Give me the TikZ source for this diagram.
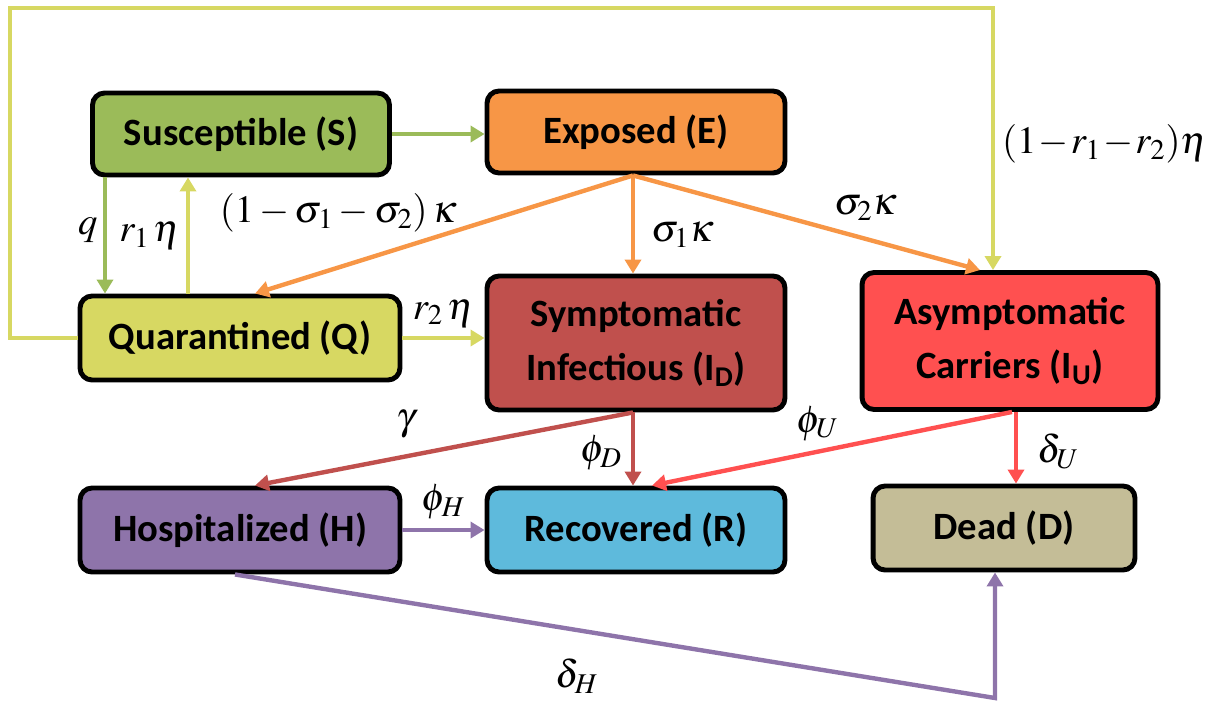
\documentclass[tikz,border=0pt]{standalone}
\usepackage{mathptmx}
\usepackage[no-math]{fontspec}
\newfontfamily\boxfont{Carlito}
\usetikzlibrary{positioning, arrows.meta}
\definecolor{colS}{RGB}{155, 187, 89}
\definecolor{colE}{RGB}{247, 150, 70}
\definecolor{colQ}{RGB}{215, 216, 98}
\definecolor{colID}{RGB}{192, 80, 77}
\definecolor{colIU}{RGB}{255, 80, 80}
\definecolor{colH}{RGB}{142, 116, 170}
\definecolor{colR}{RGB}{94, 186, 220}
\definecolor{colD}{RGB}{196, 189, 151}
\tikzset{
  compartment/.style={draw=black, line width=2.8pt, rounded corners=0.24cm,
    align=center, font=\boxfont\bfseries\fontsize{22}{31}\selectfont,
    inner sep=0pt},
  flow/.style={line width=2.5pt, -{Triangle[length=0.28cm, width=0.32cm]}},
  rate/.style={text=black, font=\fontsize{22}{26}\selectfont, inner sep=3pt}
}

\begin{document}
\begin{tikzpicture}[x=0.02cm, y=-0.02cm]
    \useasboundingbox (0,0) rectangle (1209,704);

    %% ── compartments ─────────────────────────────────────────────
    \node[compartment, fill=colS, minimum width=5.94cm, minimum height=1.64cm]
      (S) at (241,134) {Susceptible (S)};
    \node[compartment, fill=colE, minimum width=5.96cm, minimum height=1.64cm]
      (E) at (636,132) {Exposed (E)};
    \node[compartment, fill=colQ, minimum width=6.4cm, minimum height=1.68cm]
      (Q) at (240,338) {Quarantined (Q)};
    \node[compartment, fill=colID, minimum width=5.96cm, minimum height=2.68cm]
      (ID) at (636,343) {Symptomatic\\Infectious (I\textsubscript{D})};
    \node[compartment, fill=colIU, minimum width=5.92cm, minimum height=2.74cm]
      (IU) at (1010,341) {Asymptomatic\\Carriers (I\textsubscript{U})};
    \node[compartment, fill=colH, minimum width=6.4cm, minimum height=1.68cm]
      (H) at (240,530) {Hospitalized (H)};
    \node[compartment, fill=colR, minimum width=5.96cm, minimum height=1.68cm]
      (R) at (636,530) {Recovered (R)};
    \node[compartment, fill=colD, minimum width=5.24cm, minimum height=1.68cm]
      (D) at (1004,528) {Dead (D)};

    %% ── flows out of S and Q ─────────────────────────────────────
    \draw[flow, colS] (S.east) -- (S.east -| E.west);
    \draw[flow, colS] (S.south -| 105,0) --
      node[rate, left, pos=0.45] {$q$} (Q.north -| 105,0);
    \draw[flow, colQ] (Q.north -| 188,0) --
      node[rate, left, pos=0.5] {$r_1\,\eta$} (S.south -| 188,0);
    \draw[flow, colQ] (Q.east) --
      node[rate, above=2pt] {$r_2\,\eta$} (Q.east -| ID.west);
    % long way round the top to I_U
    \draw[flow, colQ] (Q.west) -| (10,8) -|
      node[rate, right=1pt, pos=0.76]
        {$\medmuskip=1mu (1-r_1-r_2)\eta$} (IU.north -| 993,0);

    %% ── flows out of E ───────────────────────────────────────────
    \draw[flow, colE] (E.south -| 633,0) --
      node[rate, pos=0.78, above=0.55cm] {$(1-\sigma_1-\sigma_2)\,\kappa$}
      (Q.north -| 255,0);
    \draw[flow, colE] (E.south -| 633,0) --
      node[rate, pos=0.6, right=6pt] {$\sigma_1\kappa$} (ID.north -| 633,0);
    \draw[flow, colE] (E.south -| 633,0) --
      node[rate, pos=0.67, above=6pt] {$\sigma_2\kappa$} (IU.north -| 980,0);

    %% ── flows out of I_D and I_U ─────────────────────────────────
    \draw[flow, colID] (ID.south -| 633,0) --
      node[rate, pos=0.6, above=6pt] {$\gamma$} (H.north -| 255,0);
    \draw[flow, colID] (ID.south -| 633,0) --
      node[rate, pos=0.55, left=2pt] {$\phi_D$} (R.north -| 633,0);
    \draw[flow, colIU] (IU.south -| 1012,0) --
      node[rate, pos=0.54, above=2pt] {$\phi_U$} (R.north -| 652,0);
    \draw[flow, colIU] (IU.south -| 1016,0) --
      node[rate, pos=0.55, right=8pt] {$\delta_U$} (D.north -| 1016,0);

    %% ── flows out of H ───────────────────────────────────────────
    \draw[flow, colH] (H.east) --
      node[rate, above=2pt] {$\phi_H$} (H.east -| R.west);
    \draw[flow, colH] (H.south -| 235,0) --
      node[rate, pos=0.45, below=0.42cm] {$\delta_H$} (995,698) --
      (D.south -| 995,0);
  \end{tikzpicture}
\end{document}
